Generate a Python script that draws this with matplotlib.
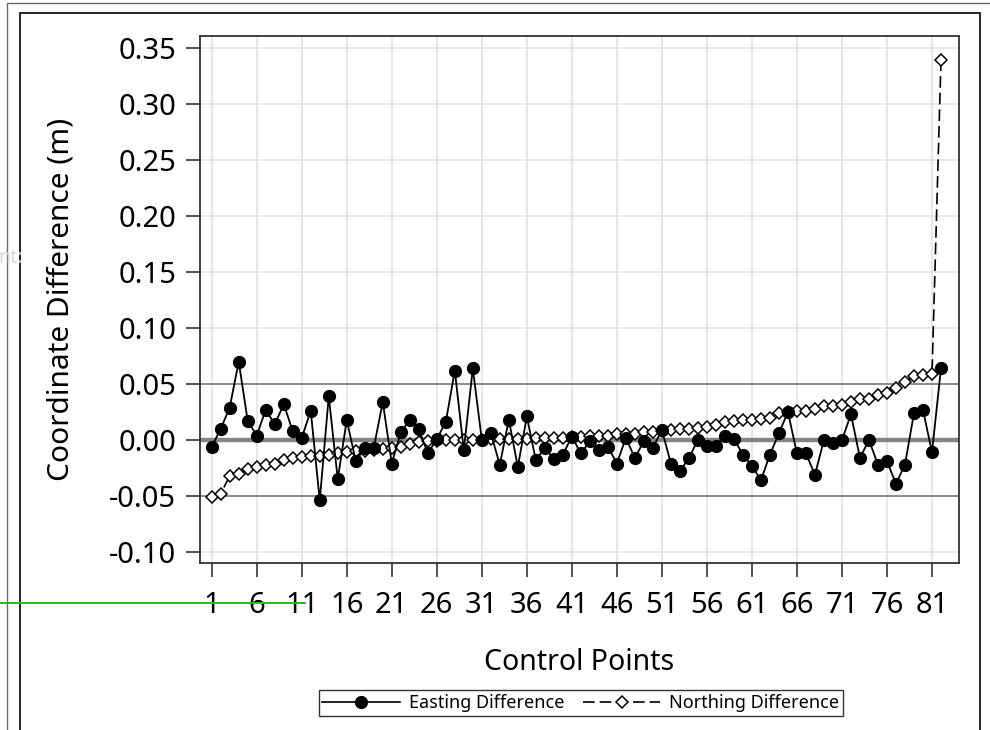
import numpy as np
import matplotlib

matplotlib.use('Agg')
import matplotlib.pyplot as plt
from matplotlib.lines import Line2D
from matplotlib.patches import Rectangle
from matplotlib.ticker import FuncFormatter

plt.rcParams['font.family'] = ['Noto Sans', 'DejaVu Sans']
plt.rcParams['axes.unicode_minus'] = False

# control point index 1..82
points = np.arange(1, 83)

easting = [
    -0.006, 0.010, 0.029, 0.070, 0.017, 0.004, 0.027, 0.014, 0.032, 0.008,
    0.002, 0.026, -0.054, 0.039, -0.035, 0.018, -0.019, -0.007, -0.007, 0.034,
    -0.021, 0.007, 0.018, 0.010, -0.012, 0.001, 0.016, 0.062, -0.009, 0.064,
    0.000, 0.006, -0.022, 0.018, -0.024, 0.021, -0.018, -0.007, -0.017, -0.013,
    0.003, -0.012, -0.001, -0.009, -0.006, -0.021, 0.002, -0.016, -0.001, -0.007,
    0.009, -0.021, -0.028, -0.016, 0.000, -0.005, -0.005, 0.004, 0.001, -0.013,
    -0.023, -0.036, -0.013, 0.006, 0.025, -0.012, -0.012, -0.031, 0.000, -0.003,
    0.000, 0.023, -0.016, 0.000, -0.022, -0.019, -0.039, -0.022, 0.024, 0.027,
    -0.011, 0.064,
]

northing = [
    -0.051, -0.048, -0.032, -0.030, -0.026, -0.024, -0.022, -0.021, -0.018, -0.016,
    -0.015, -0.014, -0.014, -0.013, -0.012, -0.011, -0.010, -0.010, -0.009, -0.008,
    -0.007, -0.006, -0.004, -0.002, -0.001, -0.001, 0.000, 0.000, 0.000, 0.000,
    0.000, 0.001, 0.001, 0.001, 0.001, 0.001, 0.002, 0.002, 0.002, 0.002,
    0.003, 0.003, 0.004, 0.004, 0.004, 0.005, 0.005, 0.005, 0.007, 0.007,
    0.008, 0.009, 0.010, 0.010, 0.011, 0.012, 0.013, 0.016, 0.017, 0.018,
    0.018, 0.019, 0.020, 0.024, 0.025, 0.026, 0.026, 0.028, 0.030, 0.030,
    0.031, 0.034, 0.037, 0.037, 0.040, 0.042, 0.046, 0.052, 0.057, 0.058,
    0.059, 0.339,
]

x_ticks = list(range(1, 82, 5))
y_ticks = [-0.10, -0.05, 0.00, 0.05, 0.10, 0.15, 0.20, 0.25, 0.30, 0.35]
ref_lines = [-0.05, 0.05]

W, H = 990, 730
fig = plt.figure(figsize=(W / 100, H / 100), dpi=100)

# outer frames (pixel coords -> figure fraction)
fig.add_artist(Rectangle((7 / W, -0.1), 1.2, 1 - 3 / H + 0.1, transform=fig.transFigure,
                         fill=False, edgecolor='#6a6a6a', linewidth=1.0))
fig.add_artist(Rectangle((20 / W, -0.1), (980 - 20) / W, 1 - 13 / H + 0.1,
                         transform=fig.transFigure, fill=False, edgecolor='black',
                         linewidth=1.2))

ax = fig.add_axes([200 / W, 1 - 563 / H, (959 - 200) / W, (563 - 36) / H])

ax.grid(True, color='#e4e4e4', linewidth=1.2, zorder=0)
ax.set_axisbelow(True)

for r in ref_lines:
    ax.axhline(r, color='#858585', linewidth=1.3, zorder=1)
ax.axhline(0, color='#858585', linewidth=3.2, zorder=1)

ax.plot(points, northing, color='black', linewidth=1.2, dashes=(7, 3),
        marker='D', markersize=6.5, markerfacecolor='white',
        markeredgecolor='black', markeredgewidth=1.1, zorder=3,
        label='Northing Difference')
ax.plot(points, easting, color='black', linewidth=1.3, marker='o',
        markersize=8.5, markerfacecolor='black', markeredgecolor='black',
        zorder=4, label='Easting Difference')

ax.set_xlim(-0.3, 84.0)
ax.set_ylim(-0.1098, 0.3607)
ax.set_xticks(x_ticks)
ax.set_yticks(y_ticks)
ax.yaxis.set_major_formatter(FuncFormatter(lambda v, p: f'{v:.2f}'))
ax.tick_params(axis='both', labelsize=21, length=10, width=1.1, color='#222222')
ax.tick_params(axis='y', pad=7)
ax.tick_params(axis='x', pad=10)

for s in ax.spines.values():
    s.set_color('#333333')
    s.set_linewidth(1.3)

ax.set_xlabel('Control Points', fontsize=20.5, labelpad=20)
ax.set_ylabel('Coordinate Difference (m)', fontsize=21.5, labelpad=24)

handles = [
    Line2D([], [], color='black', linewidth=1.2, marker='o', markersize=8.5),
    Line2D([], [], color='black', linewidth=1.2, dashes=(7, 3), marker='D',
           markersize=6.5, markerfacecolor='white', markeredgewidth=1.1),
]
leg = fig.legend(handles, ['Easting Difference', 'Northing Difference'],
                 loc='center', bbox_to_anchor=(581 / W, 1 - 703 / H), ncol=2,
                 fontsize=13, frameon=True, fancybox=False, handlelength=4.3,
                 columnspacing=1.0, handletextpad=0.5, borderpad=0.2,
                 borderaxespad=0)
leg.get_frame().set_edgecolor('black')
leg.get_frame().set_linewidth(1.0)

# stray artefacts visible in the reference
fig.add_artist(Line2D([0, 305 / W], [1 - 603 / H, 1 - 603 / H], transform=fig.transFigure,
                      color='#22bb22', linewidth=1.4, zorder=10))
fig.text(-2 / W, 1 - 258 / H, 'nt:', fontsize=14, color='#d6d6d6', va='center', ha='left')

fig.savefig('out.png', dpi=100)
